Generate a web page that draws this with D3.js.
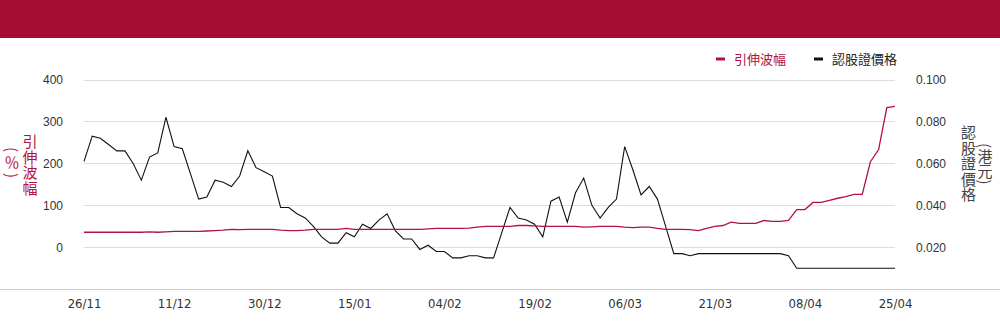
<!DOCTYPE html>
<html>
<head>
<meta charset="utf-8">
<script src="https://cdn.jsdelivr.net/npm/d3@7"></script>
<style>
  body { margin: 0; background: #fff; }
  svg { display: block; font-family: Roboto, "Liberation Sans", Arial, sans-serif; }
  .tick text { fill: #333; font-size: 12px; }
  .x.axis .tick text { font-family: "Liberation Sans Narrow", "DejaVu Sans Condensed", sans-serif; font-size: 13px; fill: #333; }
</style>
</head>
<body>
<svg class="chart_svg" width="1000" height="324"></svg>
<script>
// trading days
const dates = [
  "26/11","27/11","28/11","29/11","02/12","03/12","04/12","05/12","06/12","09/12",
  "10/12","11/12","12/12","13/12","16/12","17/12","18/12","19/12","20/12","23/12",
  "24/12","27/12","30/12","31/12","02/01","03/01","06/01","07/01","08/01","09/01",
  "10/01","13/01","14/01","15/01","16/01","17/01","20/01","21/01","22/01","23/01",
  "24/01","27/01","28/01","03/02","04/02","05/02","06/02","07/02","10/02","11/02",
  "12/02","13/02","14/02","17/02","18/02","19/02","20/02","21/02","24/02","25/02",
  "26/02","27/02","28/02","03/03","04/03","05/03","06/03","07/03","10/03","11/03",
  "12/03","13/03","14/03","17/03","18/03","19/03","20/03","21/03","24/03","25/03",
  "26/03","27/03","28/03","31/03","01/04","02/04","03/04","07/04","08/04","09/04",
  "10/04","11/04","14/04","15/04","16/04","17/04","22/04","23/04","24/04","25/04"
];

const xTickLabels = ["26/11","11/12","30/12","15/01","04/02","19/02","06/03","21/03","08/04","25/04"];

// 引伸波幅 (%)
const impliedVol = [
  36,36,36,36,36,36,36,36,37,36,
  37,38,38,38,38,39,40,41,43,42,
  43,43,43,43,41,40,40,41,43,43,
  43,43,45,43,43,43,43,43,43,43,
  43,43,44,45,45,45,45,46,48,50,
  50,50,50,52,52,51,50,50,50,50,
  50,48,49,50,50,50,48,47,48,48,
  45,43,43,43,42,40,45,50,52,60,
  57,57,57,64,62,62,64,90,90,107,
  107,112,117,121,126,126,204,233,333,336
];

// 認股證價格 (港元)
const warrantPrice = [
  0.061,0.073,0.072,0.069,0.066,0.066,0.060,0.052,0.063,0.065,
  0.082,0.068,0.067,0.055,0.043,0.044,0.052,0.051,0.049,0.054,
  0.066,0.058,0.056,0.054,0.039,0.039,0.036,0.034,0.030,0.025,
  0.022,0.022,0.027,0.025,0.031,0.029,0.033,0.036,0.028,0.024,
  0.024,0.019,0.021,0.018,0.018,0.015,0.015,0.016,0.016,0.015,
  0.015,0.027,0.039,0.034,0.033,0.031,0.025,0.042,0.044,0.032,
  0.046,0.053,0.040,0.034,0.039,0.043,0.068,0.057,0.045,0.049,
  0.043,0.030,0.017,0.017,0.016,0.017,0.017,0.017,0.017,0.017,
  0.017,0.017,0.017,0.017,0.017,0.017,0.016,0.010,0.010,0.010,
  0.010,0.010,0.010,0.010,0.010,0.010,0.010,0.010,0.010,0.010
];

const leftTicks = [0, 100, 200, 300, 400];
const rightTicks = [0.02, 0.04, 0.06, 0.08, 0.1];

const red = "#b3123e";
const headerColor = "#a50d33";

const chartLeft = 84, chartRight = 895;
const chartTop = 79.5, chartBottom = 289.3;

const svg = d3.select(".chart_svg");

// header band
svg.append("rect")
    .attr("x", 0).attr("y", 0)
    .attr("width", 1000).attr("height", 38)
    .attr("fill", headerColor);

const x = d3.scalePoint()
    .domain(dates)
    .range([chartLeft, chartRight]);

const yLeft = d3.scaleLinear()
    .domain([-100, 400])
    .range([chartBottom, chartTop]);

const yRight = d3.scaleLinear()
    .domain([0, 0.1])
    .range([chartBottom, chartTop]);

// gridlines
svg.append("g")
    .selectAll("line")
    .data(leftTicks)
    .enter()
    .append("line")
    .attr("x1", chartLeft)
    .attr("x2", chartRight)
    .attr("y1", d => Math.round(yLeft(d)) + 0.5)
    .attr("y2", d => Math.round(yLeft(d)) + 0.5)
    .attr("stroke", "#dedede");

// bottom line across the whole width
svg.append("line")
    .attr("x1", 0).attr("x2", 1000)
    .attr("y1", 289.5).attr("y2", 289.5)
    .attr("stroke", "#cccccc");

// left axis
svg.append("g")
    .attr("class", "y axis")
    .attr("transform", `translate(${chartLeft}, 0)`)
    .call(d3.axisLeft(yLeft).tickValues(leftTicks).tickSize(0).tickPadding(21))
    .call(g => g.select(".domain").remove());

// right axis
svg.append("g")
    .attr("class", "y axis")
    .attr("transform", `translate(${chartRight}, 0)`)
    .call(d3.axisRight(yRight).tickValues(rightTicks).tickSize(0).tickPadding(21)
        .tickFormat(d3.format(".3f")))
    .call(g => g.select(".domain").remove());

// x axis
svg.append("g")
    .attr("class", "x axis")
    .attr("transform", `translate(0, ${chartBottom})`)
    .call(d3.axisBottom(x).tickValues(xTickLabels).tickSize(0).tickPadding(9))
    .call(g => g.select(".domain").remove());

// lines
const volLine = d3.line()
    .x((d, i) => x(dates[i]))
    .y(d => yLeft(d));

const priceLine = d3.line()
    .x((d, i) => x(dates[i]))
    .y(d => yRight(d));

svg.append("path")
    .datum(warrantPrice)
    .attr("fill", "none")
    .attr("stroke", "#111")
    .attr("stroke-width", 1.1)
    .attr("d", priceLine);

svg.append("path")
    .datum(impliedVol)
    .attr("fill", "none")
    .attr("stroke", red)
    .attr("stroke-width", 1.3)
    .attr("d", volLine);

// axis titles, vertical writing
const cjkFont = "'Noto Sans CJK TC', 'Noto Sans CJK SC', sans-serif";

function vText(xPos, yPos, txt, color, spacing) {
    svg.append("text")
        .attr("x", xPos)
        .attr("y", yPos)
        .attr("text-anchor", "middle")
        .style("writing-mode", "vertical-rl")
        .style("text-orientation", "mixed")
        .style("font-family", cjkFont)
        .style("font-size", "15px")
        .style("letter-spacing", spacing + "px")
        .attr("fill", color)
        .text(txt);
}

vText(30, 165, "引伸波幅", red, 0.5);
vText(12, 164, "(％)", red, 3);
vText(968.5, 164, "認股證價格", "#444", 0.5);
vText(985, 164, "(港元)", "#444", 0.5);

// legend
const legend = [
  {label: "引伸波幅", color: red, textColor: red, x: 716},
  {label: "認股證價格", color: "#111", textColor: "#222", x: 814}
];

const lg = svg.append("g")
    .selectAll("g")
    .data(legend)
    .enter()
    .append("g")
    .attr("transform", d => `translate(${d.x}, 59)`);

lg.append("rect")
    .attr("x", 0).attr("y", -1.5)
    .attr("width", 9).attr("height", 3)
    .attr("fill", d => d.color);

lg.append("text")
    .attr("x", 18)
    .attr("y", 0)
    .attr("dy", "0.35em")
    .style("font-family", cjkFont)
    .style("font-size", "13px")
    .attr("fill", d => d.textColor)
    .text(d => d.label);
</script>
</body>
</html>
